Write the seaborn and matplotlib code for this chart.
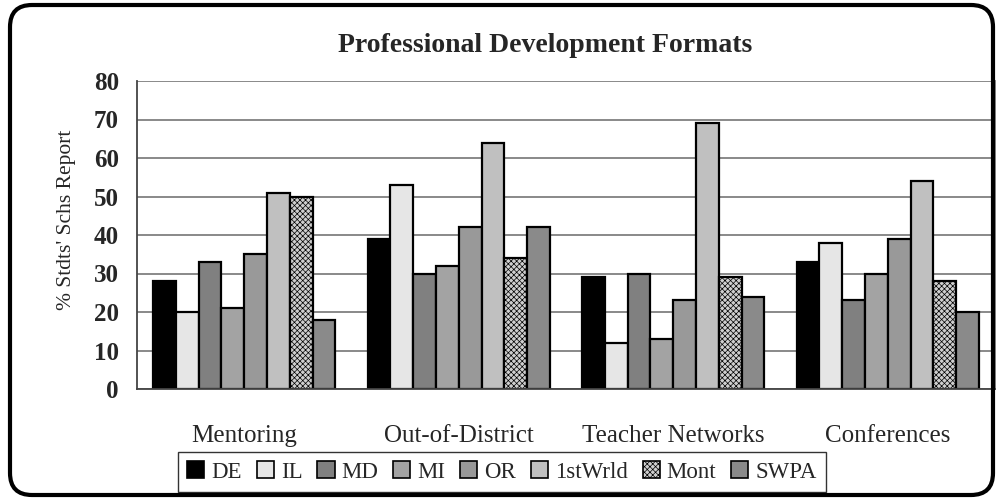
import matplotlib
matplotlib.use("Agg")
import matplotlib.pyplot as plt
import seaborn as sns
import pandas as pd
from matplotlib.patches import FancyBboxPatch

categories = ["Mentoring", "Out-of-District", "Teacher Networks", "Conferences"]
series = ["DE", "IL", "MD", "MI", "OR", "1stWrld", "Mont", "SWPA"]
DE = [28, 39, 29, 33]
IL = [20, 53, 12, 38]
MD = [33, 30, 30, 23]
MI = [21, 32, 13, 30]
OR = [35, 42, 23, 39]
FIRST = [51, 64, 69, 54]
MONT = [50, 34, 29, 28]
SWPA = [18, 42, 24, 20]
yticks = [0, 10, 20, 30, 40, 50, 60, 70, 80]

values = [DE, IL, MD, MI, OR, FIRST, MONT, SWPA]
rows = []
for s, vals in zip(series, values):
    for c, v in zip(categories, vals):
        rows.append({"Format": c, "Region": s, "Value": v})
df = pd.DataFrame(rows)

colors = ["#000000", "#e6e6e6", "#808080", "#a3a3a3", "#999999", "#c0c0c0", "#cfcfcf", "#8a8a8a"]

sns.set_style("white")
plt.rcParams['font.family'] = ['Liberation Serif', 'DejaVu Serif']
plt.rcParams['hatch.linewidth'] = 0.5

fig = plt.figure(figsize=(10.03, 5.0), dpi=100)
ax = fig.add_axes([137/1003, 1-389/500, (995-137)/1003, (389-81)/500])

sns.barplot(data=df, x="Format", y="Value", hue="Region", order=categories,
            hue_order=series, palette=colors, width=0.85, gap=0,
            edgecolor="black", linewidth=1.6, ax=ax, legend=True, saturation=1)

for cont, name in zip(ax.containers, series):
    if name == "Mont":
        for p in cont.patches:
            p.set_hatch("xxxxxx")

ax.set_ylim(0, 80)
ax.set_xlim(-0.5, 3.5)
ax.set_yticks(yticks)
ax.set_yticklabels([str(t) for t in yticks], fontsize=18, fontweight="bold")
ax.yaxis.grid(True, color="#808080", linewidth=1.3)
ax.set_axisbelow(True)
ax.set_xlabel("")
ax.set_ylabel("% Stdts' Schs Report", fontsize=15.5)
ax.yaxis.set_label_coords(-(137-76)/858, (389-220)/308)
ax.set_xticks([-0.5, 0.5, 1.5, 2.5, 3.5])
ax.set_xticklabels([])
ax.set_xticks([0, 1, 2, 3], minor=True)
ax.set_xticklabels(categories, minor=True, fontsize=18)
ax.tick_params(axis="x", which="major", direction="out", length=7, width=1, color="#555555")
ax.tick_params(axis="x", which="minor", length=0, pad=26)
ax.tick_params(axis="y", direction="out", length=8, width=1, color="#555555", pad=5)
for sp in ["left", "bottom"]:
    ax.spines[sp].set_color("#444444")
    ax.spines[sp].set_linewidth(1.3)
ax.spines["right"].set_color("#808080")
ax.spines["right"].set_linewidth(1.3)
ax.spines["top"].set_visible(False)

handles, labels = ax.get_legend_handles_labels()
for h, name in zip(handles, labels):
    h.set_linewidth(1.2)
    if name == "Mont":
        h.set_hatch("xxxxxx")
ax.legend_.remove()
leg = fig.legend(handles, labels, loc="center", bbox_to_anchor=(502/1003, 1-472/500),
                 ncol=8, frameon=True, fancybox=False, fontsize=16.5,
                 handlelength=0.75, handleheight=0.75, handletextpad=0.3,
                 columnspacing=0.65, borderpad=0.4, edgecolor="black")
leg.get_frame().set_linewidth(1.0)

fig.text(545/1003, 1-45/500, "Professional Development Formats", ha="center", va="center",
         fontsize=20, fontweight="bold")

border = FancyBboxPatch((0.1, 0.05), 9.83, 4.9, boxstyle="round,pad=0,rounding_size=0.22",
                        transform=fig.dpi_scale_trans, fill=False, edgecolor="black",
                        linewidth=3, zorder=10)
fig.patches.append(border)

fig.savefig("out.png", dpi=100)
